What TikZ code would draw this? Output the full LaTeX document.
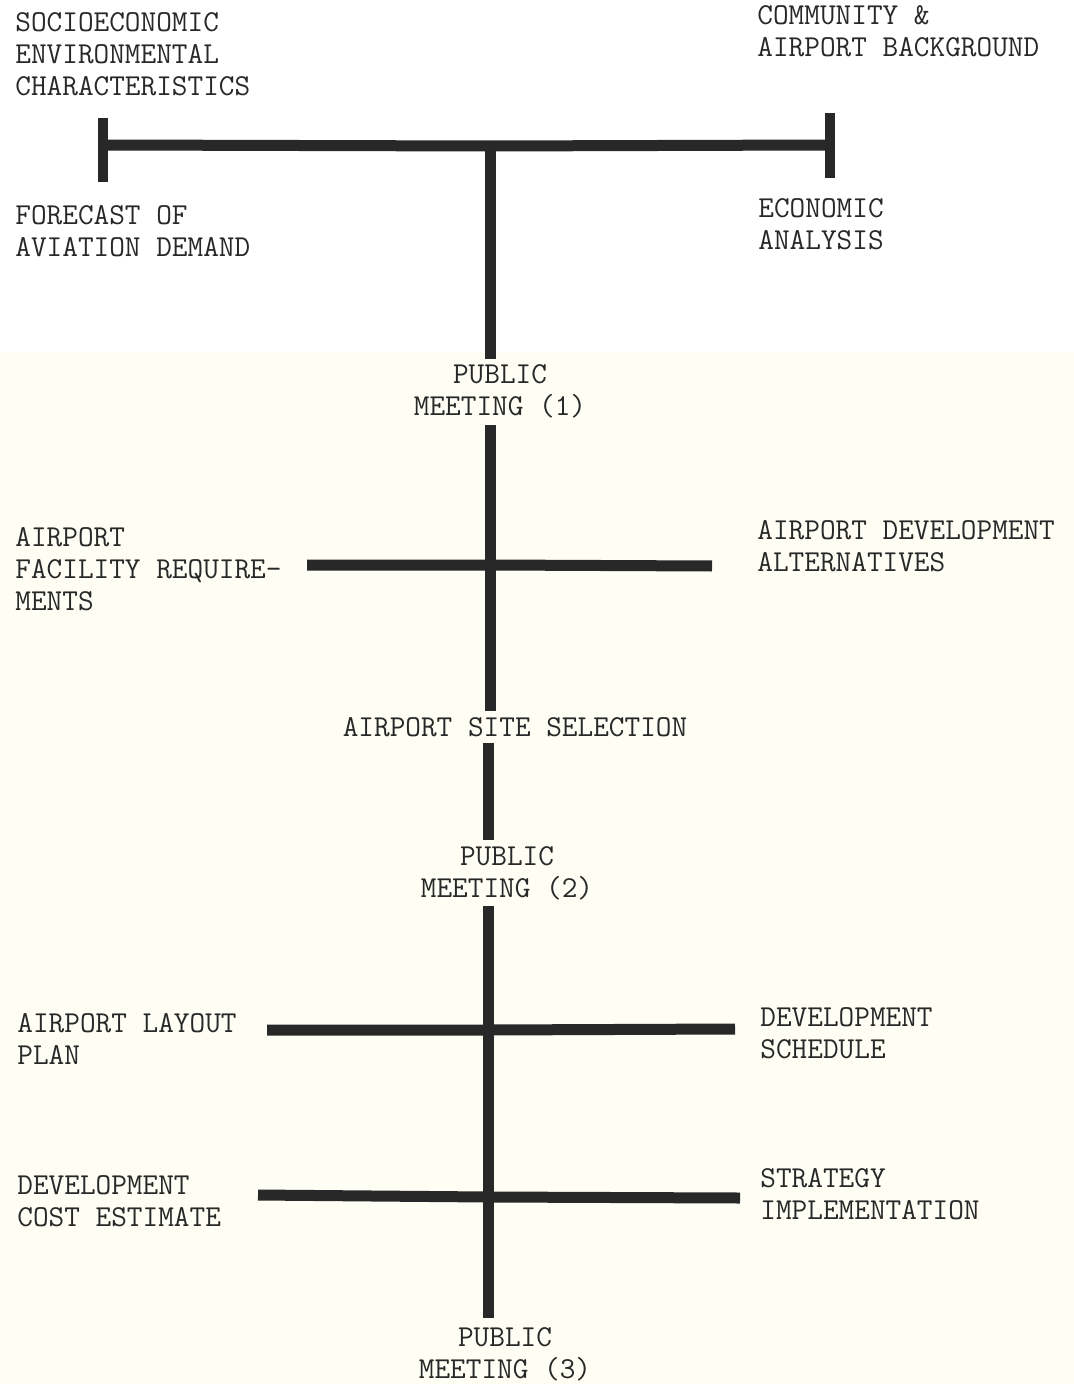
\documentclass[tikz,border=0pt]{standalone}
\usepackage{fontspec}
\usepackage{tikz}
\usetikzlibrary{positioning}

\definecolor{ink}{RGB}{40,40,40}
\definecolor{paper}{RGB}{254,254,245}

\tikzset{
  lbl/.style={font=\ttfamily\fontsize{15.2}{16}\selectfont, text=ink, align=left, inner sep=0pt, anchor=base west},
  meet/.style={font=\ttfamily\fontsize{15.2}{16}\selectfont, text=ink, align=center, inner sep=3pt, anchor=base},
  bar/.style={draw=ink, line width=5.5pt},
  tick/.style={draw=ink, line width=5pt}
}

\begin{document}
\begin{tikzpicture}[x=0.5pt,y=-0.5pt]
    \useasboundingbox (0,0) rectangle (1074,1384);
    \fill[paper] (0,352) rectangle (1074,1384);

    % labels (placed at the baseline of their last line)
    \node[lbl] (socio) at (15,96) {SOCIOECONOMIC\\ENVIRONMENTAL\\CHARACTERISTICS};
    \node[lbl] (comm) at (757,57) {COMMUNITY \&\\AIRPORT BACKGROUND};
    \node[lbl] (fcast) at (15,257) {FORECAST OF\\AVIATION DEMAND};
    \node[lbl] (econ) at (758,250) {ECONOMIC\\ANALYSIS};
    \node[meet] (pm1) at (500,416) {PUBLIC\\MEETING (1)};
    \node[lbl] (facil) at (15,610) {AIRPORT\\FACILITY REQUIRE-\\MENTS};
    \node[lbl] (alts) at (757,571) {AIRPORT DEVELOPMENT\\ALTERNATIVES};
    \node[meet] (site) at (515,736) {AIRPORT SITE SELECTION};
    \node[meet] (pm2) at (507,897) {PUBLIC\\MEETING (2)};
    \node[lbl] (layout) at (17,1064) {AIRPORT LAYOUT\\PLAN};
    \node[lbl] (sched) at (760,1058) {DEVELOPMENT\\SCHEDULE};
    \node[lbl] (cost) at (17,1226) {DEVELOPMENT\\COST ESTIMATE};
    \node[lbl] (strat) at (760,1219) {STRATEGY\\IMPLEMENTATION};
    \node[meet] (pm3) at (505,1378) {PUBLIC\\MEETING (3)};

    % junctions and bar ends
    \coordinate (topL) at (103,145);
    \coordinate (topR) at (830,145);
    \coordinate (topC) at (490,146);
    \coordinate (midA) at (490,565);
    \coordinate (midAL) at (307,565);
    \coordinate (midAR) at (712,566);
    \coordinate (lowA) at (488,1030);
    \coordinate (lowAL) at (267,1030);
    \coordinate (lowAR) at (735,1029);
    \coordinate (lowB) at (488,1197);
    \coordinate (lowBL) at (258,1195);
    \coordinate (lowBR) at (740,1198);
    \coordinate (bot) at (488,1318);

    % top bar with end ticks
    \draw[bar] (topL) -- (topC) -- (topR);
    \draw[tick] (topL) ++(0,-27) -- ++(0,64);
    \draw[tick] (topR) ++(0,-32) -- ++(0,65);

    % spine
    \draw[bar] (topC) -- (topC |- pm1.north);
    \draw[bar] (topC |- pm1.south) -- (topC |- site.north);
    \draw[bar] (midAL) -- (midA) -- (midAR);
    \draw[bar] (bot |- site.south) -- (bot |- pm2.north);
    \draw[bar] (bot |- pm2.south) -- (bot);
    \draw[bar] (lowAL) -- (lowA) -- (lowAR);
    \draw[bar] (lowBL) -- (lowB) -- (lowBR);
\end{tikzpicture}
\end{document}
